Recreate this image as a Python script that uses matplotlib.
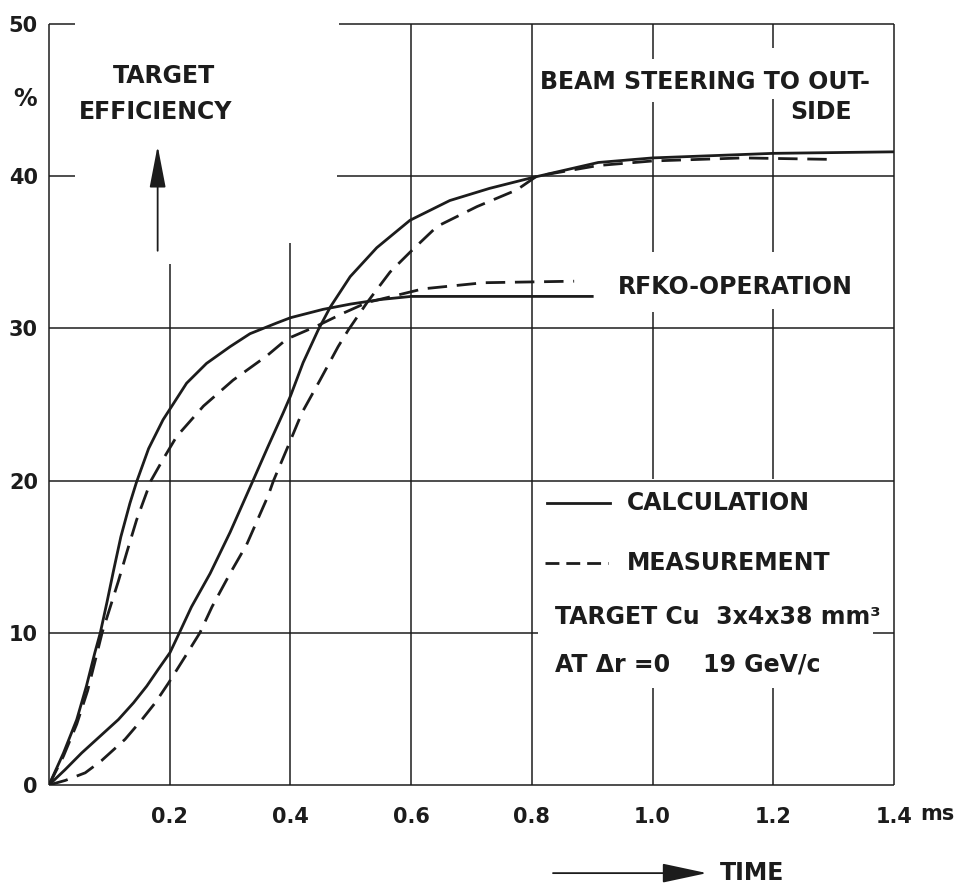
import matplotlib
matplotlib.use("Agg")
import matplotlib.pyplot as plt

# time in ms, target efficiency in %
calc_rfko_t = [0, 0.024, 0.046, 0.062, 0.076, 0.085, 0.096, 0.107, 0.119, 0.134, 0.145,
               0.165, 0.189, 0.228, 0.261, 0.30, 0.333, 0.377, 0.40, 0.454, 0.50, 0.55,
               0.6, 0.7, 0.8, 0.9]
calc_rfko_y = [0, 2.1, 4.3, 6.5, 8.7, 10.0, 12.0, 14.1, 16.3, 18.5, 19.9,
               22.1, 24.0, 26.4, 27.7, 28.8, 29.65, 30.35, 30.7, 31.25, 31.6, 31.9,
               32.1, 32.1, 32.1, 32.1]

meas_rfko_t = [0, 0.024, 0.046, 0.064, 0.078, 0.088, 0.115, 0.129, 0.145, 0.169, 0.189,
               0.2115, 0.256, 0.305, 0.361, 0.394, 0.4435, 0.4875, 0.527, 0.62, 0.72, 0.87]
meas_rfko_y = [0, 1.9, 4.0, 6.2, 8.4, 10.0, 13.4, 15.3, 17.4, 20.0, 21.4,
               22.9, 24.9, 26.6, 28.2, 29.3, 30.15, 31.0, 31.7, 32.6, 33.0, 33.1]

calc_beam_t = [0, 0.0265, 0.054, 0.0845, 0.115, 0.14, 0.162, 0.181, 0.2005, 0.216, 0.236,
               0.267, 0.30, 0.338, 0.363, 0.388, 0.40, 0.421, 0.446, 0.466, 0.499,
               0.543, 0.598, 0.664, 0.73, 0.8, 0.91, 1.0, 1.2, 1.4]
calc_beam_y = [0, 1.0, 2.1, 3.2, 4.3, 5.4, 6.5, 7.6, 8.7, 10.0, 11.7,
               13.9, 16.6, 20.0, 22.25, 24.45, 25.55, 27.75, 29.9, 31.4, 33.4,
               35.3, 37.1, 38.4, 39.2, 39.9, 40.9, 41.2, 41.5, 41.6]

meas_beam_t = [0, 0.027, 0.06, 0.087, 0.126, 0.154, 0.176, 0.198, 0.225, 0.25, 0.27,
               0.30, 0.3275, 0.363, 0.372, 0.396, 0.419, 0.449, 0.479, 0.496, 0.527,
               0.565, 0.598, 0.643, 0.709, 0.775, 0.808, 0.91, 1.0, 1.15, 1.3]
meas_beam_y = [0, 0.3, 0.8, 1.6, 3.0, 4.3, 5.4, 6.7, 8.4, 10.0, 11.7,
               13.9, 15.8, 19.0, 20.0, 22.25, 24.45, 26.6, 28.8, 29.9, 31.7,
               33.7, 35.0, 36.7, 38.0, 39.1, 40.0, 40.7, 41.0, 41.2, 41.1]

xticks = [0.2, 0.4, 0.6, 0.8, 1.0, 1.2, 1.4]
xlabels = ["0.2", "0.4", "0.6", "0.8", "1.0", "1.2", "1.4"]
yticks = [0, 10, 20, 30, 40, 50]
ylabels = ["0", "10", "20", "30", "40", "50"]

ink = "#1c1c1c"
plt.rcParams["font.family"] = ["DejaVu Sans"]
plt.rcParams["font.weight"] = "bold"

fig = plt.figure(figsize=(9.57, 8.88), dpi=100)
ax = fig.add_axes([0.0512, 0.116, 0.883, 0.857])
ax.set_xlim(0, 1.4)
ax.set_ylim(0, 50)
for s in ax.spines.values():
    s.set_visible(False)

# grid drawn piece by piece, broken where the lettering sits
hgrid = {50: [(0, 0.043), (0.48, 1.4)], 40: [(0, 0.043), (0.477, 1.4)],
         30: [(0, 1.4)], 20: [(0, 1.4)], 10: [(0, 0.81), (1.365, 1.4)], 0: [(0, 1.4)]}
vgrid = {0: [(0, 50)], 0.2: [(0, 34.2)], 0.4: [(0, 35.6)], 0.6: [(0, 50)], 0.8: [(0, 50)],
         1.0: [(0, 6.4), (20.1, 31.05), (35.0, 44.9), (47.7, 50)],
         1.2: [(0, 6.4), (20.1, 31.25), (35.0, 45.1), (48.4, 50)],
         1.4: [(0, 50)]}
for y, segs in hgrid.items():
    for a, b in segs:
        ax.hlines(y, a, b, color=ink, lw=1.1, clip_on=False, zorder=1)
for x, segs in vgrid.items():
    for a, b in segs:
        ax.vlines(x, a, b, color=ink, lw=1.1, clip_on=False, zorder=1)

ax.plot(calc_rfko_t, calc_rfko_y, color=ink, lw=2.0, zorder=3)
ax.plot(meas_rfko_t, meas_rfko_y, color=ink, lw=2.0, dashes=(7, 3.5), zorder=3)
ax.plot(calc_beam_t, calc_beam_y, color=ink, lw=2.0, zorder=3)
ax.plot(meas_beam_t, meas_beam_y, color=ink, lw=2.0, dashes=(7, 3.5), zorder=3)

ax.set_xticks(xticks)
ax.set_xticklabels(xlabels)
ax.set_yticks(yticks)
ax.set_yticklabels(ylabels)
ax.tick_params(length=0, labelsize=15, colors=ink)
ax.tick_params(axis="x", pad=16)
ax.tick_params(axis="y", pad=8)
ax.annotate("ms", xy=(1.4, 0), xytext=(31, -21), textcoords="offset points",
            ha="center", va="center", fontsize=15, color=ink, annotation_clip=False)

ts = dict(fontsize=17, color=ink, va="center")
ax.text(-0.04, 45.1, "%", ha="center", clip_on=False, **ts)
ax.text(0.19, 46.6, "TARGET", ha="center", **ts)
ax.text(0.177, 44.2, "EFFICIENCY", ha="center", **ts)
ax.annotate("", xy=(0.18, 42.0), xytext=(0.18, 35.1),
            arrowprops=dict(arrowstyle="-|>,head_length=1.3,head_width=0.25",
                            mutation_scale=20, lw=1.3, color=ink, shrinkA=0, shrinkB=0))

ax.text(0.813, 46.2, "BEAM STEERING TO OUT-", ha="left", **ts)
ax.text(1.33, 44.2, "SIDE", ha="right", **ts)
ax.text(0.943, 32.7, "RFKO-OPERATION", ha="left", **ts)

ax.plot([0.825, 0.929], [18.55, 18.55], color=ink, lw=2.0)
ax.text(0.958, 18.55, "CALCULATION", ha="left", **ts)
ax.plot([0.822, 0.926], [14.6, 14.6], color=ink, lw=2.0, dashes=(5, 2.5))
ax.text(0.958, 14.6, "MEASUREMENT", ha="left", **ts)
ax.text(0.838, 11.05, "TARGET Cu  3x4x38 mm\u00b3", ha="left", **ts)
ax.text(0.838, 7.9, "AT \u0394r =0    19 GeV/c", ha="left", **ts)

ax.annotate("", xy=(1.09, -5.79), xytext=(0.835, -5.79), annotation_clip=False,
            arrowprops=dict(arrowstyle="-|>,head_length=1.4,head_width=0.3",
                            mutation_scale=20, lw=1.3, color=ink, shrinkA=0, shrinkB=0))
ax.text(1.112, -5.79, "TIME", ha="left", clip_on=False, **ts)

fig.savefig("out.png", dpi=100)
